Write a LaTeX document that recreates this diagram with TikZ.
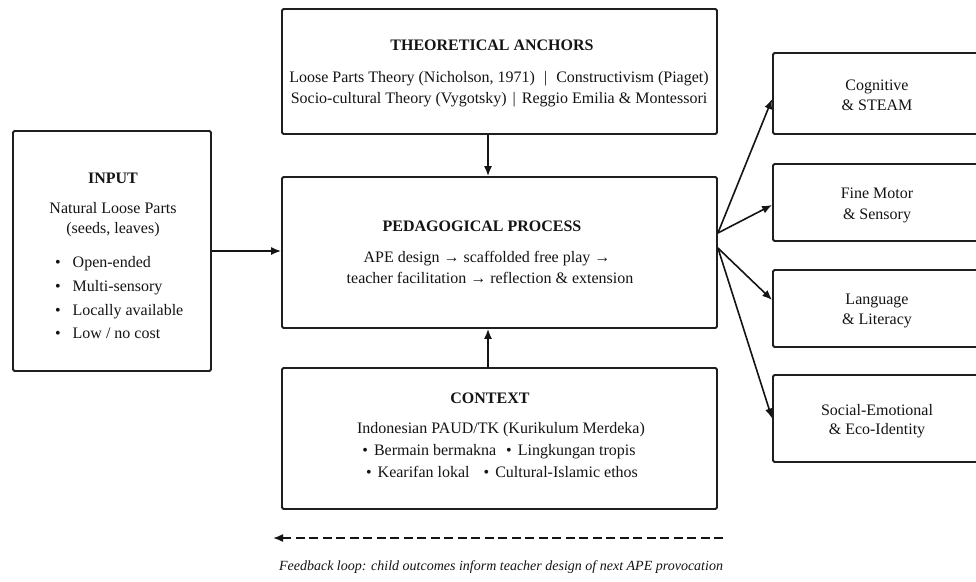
\documentclass[tikz,border=0pt]{standalone}
\usepackage{fontspec}
\setmainfont{Liberation Serif}
\usetikzlibrary{arrows.meta}
\begin{document}
\begin{tikzpicture}[x=1pt,y=-1pt,
  box/.style={draw=black!88, line width=1.8pt, rounded corners=1.5pt, inner sep=0pt, fill=white},
  txt/.style={inner sep=0pt, anchor=base, text=black!92, font=\fontsize{16}{20}\selectfont},
  ttl/.style={txt, font=\fontsize{16}{20}\selectfont\bfseries},
  bl/.style={txt, anchor=base west},
  captxt/.style={txt, font=\fontsize{14}{18}\selectfont\itshape},
  arr/.style={draw=black!92, line width=1.6pt, -{Latex[length=10pt,width=8pt]}},
  fbline/.style={draw=black!92, line width=1.6pt, dash pattern=on 9pt off 4.5pt, -{Latex[length=10pt,width=8pt]}},
]
\useasboundingbox (0,0) rectangle (976,581);
\fill[white] (0,0) rectangle (976,581);

% boxes
\node[box, minimum width=435pt, minimum height=125pt] (theory) at (499.5,71.5) {};
\node[box, minimum width=435pt, minimum height=151pt] (ped) at (499.5,252.5) {};
\node[box, minimum width=435pt, minimum height=141pt] (ctx) at (499.5,438.5) {};
\node[box, minimum width=198pt, minimum height=240pt] (inp) at (112,251) {};
\node[box, minimum width=217pt, minimum height=81pt] (o1) at (881.5,93.5) {};
\node[box, minimum width=217pt, minimum height=77pt] (o2) at (881.5,202.5) {};
\node[box, minimum width=217pt, minimum height=77pt] (o3) at (881.5,308.5) {};
\node[box, minimum width=217pt, minimum height=87pt] (o4) at (881.5,418.5) {};

% theory text
\node[ttl] (thT) at (492,50) {THEORETICAL ANCHORS};
\node[txt] (th1) at (499,82) {Loose Parts Theory (Nicholson, 1971)\hspace{9pt}|\hspace{9pt}Constructivism (Piaget)};
\node[txt] (th2) at (499,103) {Socio-cultural Theory (Vygotsky)\hspace{6pt}|\hspace{6pt}Reggio Emilia \& Montessori};

% pedagogical text
\node[ttl] (pT) at (482,231) {PEDAGOGICAL PROCESS};
\node[txt] (p1) at (487,262) {APE design → scaffolded free play →};
\node[txt] (p2) at (490,283) {teacher facilitation → reflection \& extension};

% context text
\node[ttl] (cT) at (490,403) {CONTEXT};
\node[txt] (c1) at (501,433) {Indonesian PAUD/TK (Kurikulum Merdeka)};
\node[txt] (c2) at (499,455) {•\hspace{6pt}Bermain bermakna\hspace{10pt}•\hspace{6pt}Lingkungan tropis};
\node[txt] (c3) at (502,477) {•\hspace{6pt}Kearifan lokal\hspace{14pt}•\hspace{6pt}Cultural-Islamic ethos};

% input text
\node[ttl] (iT) at (113,183) {INPUT};
\node[txt] (i1) at (113,213) {Natural Loose Parts};
\node[txt] (i2) at (113,233) {(seeds, leaves)};
\foreach \yy/\tt [count=\k] in {267/{Open-ended}, 291/{Multi-sensory}, 315/{Locally available}, 338/{Low {/} no cost}}{
  \node[txt] (ib\k) at (58,\yy) {•};
  \node[bl] (it\k) at (72.5,\yy) {\tt};
}

% outcome text
\node[txt] (o1a) at (877,90) {Cognitive};
\node[txt] (o1b) at (877,110) {\& STEAM};
\node[txt] (o2a) at (877,198) {Fine Motor};
\node[txt] (o2b) at (877,219) {\& Sensory};
\node[txt] (o3a) at (877,304) {Language};
\node[txt] (o3b) at (877,324) {\& Literacy};
\node[txt] (o4a) at (877,415) {Social-Emotional};
\node[txt] (o4b) at (877,434) {\& Eco-Identity};

% connectors
\draw[arr] (inp.east) -- (inp.east -| ped.west);
\draw[arr] ([xshift=-11.5pt]theory.south) -- ([xshift=-11.5pt]ped.north);
\draw[arr] ([xshift=-11.5pt]ctx.north) -- ([xshift=-11.5pt]ped.south);
\draw[arr] ([yshift=19.5pt]ped.east) -- ([yshift=-5.5pt]o1.west);
\draw[arr] ([yshift=19.5pt]ped.east) -- ([yshift=-2.5pt]o2.west);
\draw[arr] ([yshift=4.5pt]ped.east) -- ([yshift=8.5pt]o3.west);
\draw[arr] ([yshift=4.5pt]ped.east) -- (o4.west);

% feedback loop
\coordinate (fbR) at (723,538);
\coordinate (fbL) at (273,538);
\draw[fbline] (fbR) -- (fbL);
\node[captxt] (fbc) at (501,570) {Feedback loop: child outcomes inform teacher design of next APE provocation};
\end{tikzpicture}
\end{document}
